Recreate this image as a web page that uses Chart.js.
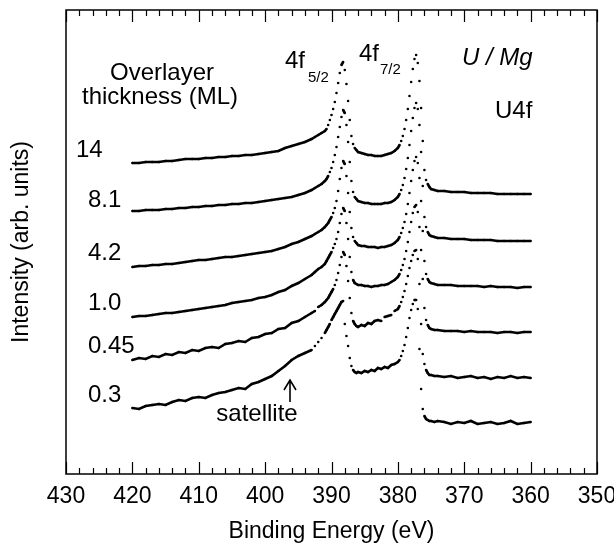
<!DOCTYPE html>
<html>
<head>
<meta charset="utf-8">
<script src="https://cdn.jsdelivr.net/npm/chart.js@4.4.1/dist/chart.umd.min.js"></script>
<style>
  body { margin: 0; background: #fff; }
</style>
</head>
<body>
<canvas id="xpsChart" width="614" height="555"></canvas>
<script>
// binding energy grid (eV), shared by all spectra
var energy = [
    420, 419, 418, 417, 416, 415, 414, 413, 412, 411, 410, 409, 408, 407, 406, 405, 404, 403, 402, 401, 400, 399, 398, 397, 396, 395, 394, 393,
    392.5, 392, 391.5, 391,
    390.75, 390.5, 390.25, 390, 389.75, 389.5, 389.25, 389, 388.75, 388.5, 388.25, 388, 387.75, 387.5, 387.25, 387, 386.75, 386.5, 386.25,
    386, 385.5, 385, 384.5, 384, 383.5, 383, 382.5, 382, 381.5, 381, 380.5, 380,
    379.75, 379.5, 379.25, 379, 378.75, 378.5, 378.25, 378, 377.75, 377.5, 377.25, 377, 376.75, 376.5, 376.25, 376, 375.75, 375.5, 375.25,
    375, 374.5, 374,
    373, 372, 371, 370, 369, 368, 367, 366, 365, 364, 363, 362, 361, 360
];

// intensities (arb. units, already offset)
var ml14 = [
    311, 311, 312, 312, 312, 313, 313, 314, 315, 315, 315, 316, 316, 317, 317, 318, 318, 319, 319, 320, 321, 322, 323, 326, 328, 330, 332, 335,
    337, 339, 341, 343,
    345, 349, 354, 359, 365, 372, 381, 391, 401, 409, 412, 404, 390, 373, 354, 338, 330, 326, 324,
    322, 321, 320, 319, 319, 318, 318, 318, 319, 320, 321, 323, 326,
    329, 333, 338, 345, 354, 365, 378, 392, 405, 415, 419, 411, 393, 366, 333, 304, 294, 290, 287,
    285, 284, 283,
    283, 282, 282, 282, 281, 281, 281, 281, 280, 280, 280, 280, 280, 280
];
var ml8_1 = [
    263, 263, 264, 264, 264, 265, 265, 266, 266, 267, 267, 268, 268, 269, 269, 270, 270, 271, 271, 272, 273, 274, 275, 276, 277, 279, 281, 284,
    286, 288, 290, 293,
    295, 298, 302, 306, 312, 319, 327, 337, 347, 357, 364, 361, 349, 332, 312, 293, 282, 277, 275,
    273, 272, 271, 271, 270, 270, 270, 270, 271, 271, 272, 274, 277,
    280, 284, 289, 296, 305, 316, 329, 343, 356, 366, 371, 365, 349, 322, 288, 257, 247, 242, 239,
    238, 237, 236,
    236, 235, 235, 235, 234, 234, 234, 234, 233, 233, 233, 233, 233, 233
];
var ml4_2 = [
    207, 208, 208, 209, 209, 210, 210, 211, 212, 213, 214, 214, 215, 216, 217, 217, 218, 219, 220, 221, 222, 223, 225, 227, 230, 232, 235, 238,
    240, 242, 244, 247,
    249, 251, 254, 257, 261, 266, 273, 283, 295, 306, 313, 310, 298, 281, 262, 246, 237, 233, 231,
    229, 228, 228, 227, 227, 227, 226, 227, 227, 228, 229, 231, 234,
    237, 241, 246, 252, 260, 270, 281, 293, 304, 313, 317, 311, 296, 273, 243, 213, 200, 195, 192,
    191, 190, 189,
    189, 189, 188, 188, 188, 188, 187, 188, 187, 187, 187, 186, 187, 187
];
var ml1_0 = [
    157, 158, 158, 159, 160, 161, 161, 162, 163, 164, 165, 166, 167, 168, 169, 171, 172, 173, 174, 176, 177, 179, 182, 184, 188, 191, 195, 199,
    202, 205, 207, 210,
    213, 216, 219, 222, 226, 230, 235, 242, 251, 260, 266, 263, 251, 235, 217, 202, 194, 191, 190,
    189, 189, 188, 188, 187, 188, 188, 189, 189, 190, 192, 194, 197,
    200, 204, 209, 215, 223, 232, 242, 252, 261, 267, 269, 262, 247, 224, 195, 166, 154, 149, 146,
    145, 144, 144,
    143, 143, 143, 142, 143, 142, 142, 142, 141, 142, 142, 141, 142, 142
];
var ml0_45 = [
    114, 116, 115, 118, 117, 120, 119, 122, 121, 124, 123, 126, 127, 126, 130, 131, 133, 132, 136, 137, 140, 141, 145, 146, 151, 153, 157, 161,
    163, 167, 169, 172,
    174, 176, 179, 182, 185, 189, 194, 201, 209, 217, 222, 219, 208, 193, 176, 161, 153, 150, 148,
    147, 149, 148, 151, 150, 153, 154, 153, 157, 158, 159, 163, 165,
    168, 172, 177, 183, 190, 198, 206, 213, 219, 223, 224, 215, 190, 150, 120, 110, 104, 101, 99,
    99, 98, 98,
    97, 98, 96, 97, 98, 96, 97, 95, 97, 96, 98, 96, 97, 96
];
var ml0_3 = [
    66, 65, 68, 69, 70, 69, 72, 74, 73, 76, 77, 76, 79, 81, 82, 84, 86, 85, 90, 92, 95, 98, 103, 108, 114, 118, 121, 124,
    128, 132, 136, 141,
    144, 147, 150, 154, 157, 160, 163, 166, 169, 172, 173, 150, 138, 128, 116, 108, 104, 102, 101,
    102, 101, 103, 102, 104, 103, 106, 105, 107, 106, 109, 110, 112,
    114, 118, 123, 129, 137, 146, 156, 164, 170, 174, 174, 165, 125, 85, 65, 58, 55, 54, 53,
    53, 52, 53,
    52, 50, 52, 51, 53, 50, 51, 52, 50, 51, 53, 50, 51, 52
];

var thicknessLabels = ["14", "8.1", "4.2", "1.0", "0.45", "0.3"];
var xTicks = [430, 420, 410, 400, 390, 380, 370, 360, 350];

var FONT = "'Liberation Sans', Arial, Helvetica, sans-serif";
Chart.defaults.font.family = FONT;
Chart.defaults.color = "#000";

var spectra = [ml14, ml8_1, ml4_2, ml1_0, ml0_45, ml0_3];

var datasets = spectra.map(function (vals, i) {
    return {
        label: thicknessLabels[i],
        data: energy.map(function (e, k) { return { x: e, y: vals[k] }; }),
        borderColor: "#000",
        borderWidth: 2.6,
        pointRadius: 1.3,
        pointBorderWidth: 0,
        pointBackgroundColor: "#000",
        tension: 0,
        segment: {
            // steep parts of the peaks show as separate dots, like the scan
            borderColor: function (c) {
                var dx = Math.abs(c.p1.x - c.p0.x), dy = Math.abs(c.p1.y - c.p0.y);
                return (dy > 3.5 && dy > 1.2 * dx) ? "rgba(0,0,0,0)" : "#000";
            }
        }
    };
});

// frame, inward ticks and the text on the plot
var decorations = {
    id: "decorations",
    afterDraw: function (chart) {
        var ctx = chart.ctx, a = chart.chartArea, xs = chart.scales.x;
        ctx.save();
        ctx.strokeStyle = "#000";
        ctx.lineWidth = 1.5;
        ctx.strokeRect(a.left, a.top, a.right - a.left, a.bottom - a.top);

        ctx.lineWidth = 1.2;
        for (var v = 350; v <= 430; v += 2) {
            var x = Math.round(xs.getPixelForValue(v)) + 0.5;
            var len = (v % 10 === 0) ? 12 : 6;
            ctx.beginPath();
            ctx.moveTo(x, a.bottom); ctx.lineTo(x, a.bottom - len);
            ctx.moveTo(x, a.top); ctx.lineTo(x, a.top + len);
            ctx.stroke();
        }

        ctx.fillStyle = "#000";
        ctx.textBaseline = "alphabetic";
        ctx.font = "24px " + FONT;
        ctx.textAlign = "center";
        ctx.fillText("Overlayer", 162, 80);
        ctx.fillText("thickness (ML)", 160, 104);
        ctx.fillText("satellite", 257, 421);

        ctx.textAlign = "left";
        var labelPos = [[76, 157], [88, 207], [88, 260], [88, 310], [88, 353], [88, 402]];
        thicknessLabels.forEach(function (t, i) {
            ctx.fillText(t, labelPos[i][0], labelPos[i][1]);
        });

        ctx.fillText("4f", 285, 68);
        ctx.fillText("4f", 359, 61);
        ctx.fillText("U4f", 495, 118);
        ctx.font = "15px " + FONT;
        ctx.fillText("5/2", 308, 82);
        ctx.fillText("7/2", 380, 74);
        ctx.font = "italic 24px " + FONT;
        ctx.fillText("U / Mg", 462, 65);

        // satellite arrow
        ctx.lineWidth = 1.6;
        ctx.beginPath();
        ctx.moveTo(290, 402); ctx.lineTo(290, 381);
        ctx.moveTo(284, 390); ctx.lineTo(290, 380); ctx.lineTo(296, 390);
        ctx.stroke();
        ctx.restore();
    }
};

var config = {
    type: "line",
    data: { datasets: datasets },
    options: {
        responsive: false,
        animation: false,
        layout: { padding: { top: 10, right: 17, left: 0, bottom: 0 } },
        plugins: {
            legend: { display: false },
            tooltip: { enabled: false }
        },
        scales: {
            x: {
                type: "linear",
                reverse: true,
                min: 350,
                max: 430,
                afterBuildTicks: function (s) { s.ticks = xTicks.map(function (v) { return { value: v }; }); },
                ticks: { font: { size: 23 }, color: "#000", padding: 9, maxRotation: 0 },
                grid: { display: false, drawTicks: false },
                border: { display: false },
                title: { display: true, text: "Binding Energy (eV)", font: { size: 23 }, color: "#000", padding: { top: 0, bottom: 10 } },
                afterFit: function (s) { s.height = 81; s.paddingLeft = 0; s.paddingRight = 0; }
            },
            y: {
                min: 0,
                max: 464,
                ticks: { display: false },
                grid: { display: false, drawTicks: false },
                border: { display: false },
                title: { display: true, text: "Intensity (arb. units)", font: { size: 23 }, color: "#000", padding: { top: 8, bottom: 0 } },
                afterFit: function (s) { s.width = 66; }
            }
        }
    },
    plugins: [decorations]
};

var xpsChart = new Chart(document.getElementById("xpsChart"), config);
</script>
</body>
</html>
